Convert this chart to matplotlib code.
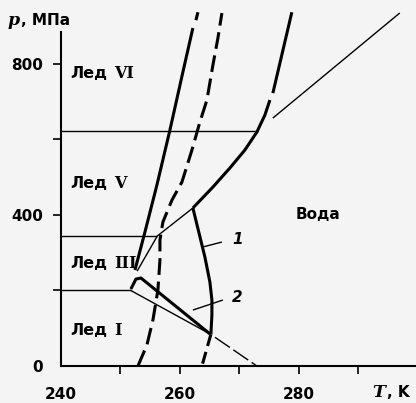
import matplotlib
matplotlib.use("Agg")
import matplotlib.pyplot as plt

# phase diagram of ice, T in K, p in MPa
vi_v_T = [240, 273.1]          # Ice V / Ice VI boundary
vi_v_p = [622, 622]
v_iii_T = [240, 256.2]         # Ice III / Ice V boundary
v_iii_p = [345, 345]
iii_i_T = [240, 251.7]         # Ice I / Ice III boundary
iii_i_p = [201, 201]

melt_i_T = [251.6, 265.04]     # Ice I melting (thin)
melt_i_p = [201, 85]
melt_i_ext_T = [265.9, 272.94]
melt_i_ext_p = [76, 0]

melt_iii_T = [252.8, 256.2, 262.18]
melt_iii_p = [251, 344, 418]

melt_v_T = [262.18, 265.55, 268.40, 270.92, 272.94, 274.29, 275.13]
melt_v_p = [418, 473.5, 523.8, 571.4, 619, 664, 703.7]
upper_T = [275.63, 278.82]
upper_p = [722, 936]

melt_vi_T = [275.63, 296.97]
melt_vi_p = [656, 934]

a_T = [252.44, 254.12, 256.13, 258.32, 260.50, 262.18]
a_p = [254, 354.5, 478.8, 624.3, 777.8, 894.2]
a_top_T = [262.69, 263.03]
a_top_p = [915, 936]

b_T = [252.94, 254.45, 255.46, 256.30, 256.64, 256.64, 257.14, 258.66,
       260.34, 262.02, 263.36, 264.54, 265.55, 266.39, 267.06]
b_p = [0, 55.6, 121.7, 201, 280.4, 333.3, 381, 439,
       486.8, 571.4, 645.5, 703.7, 796.3, 867.7, 933.9]

c1_T = [262.18, 264.20, 265.04, 265.38, 265.38, 265.21]
c1_p = [418, 288.4, 222.2, 174.6, 135, 84]
c1_ext_T = [265.21, 263.70]
c1_ext_p = [84, 0]

c2_T = [251.76, 252.6, 253.45, 265.04]
c2_p = [203.7, 230, 232.8, 85]

lead1_T = [263.87, 267.06]
lead1_p = [315, 328]
lead2_T = [262.18, 267.23]
lead2_p = [148, 174.6]

bg = "#f4f4f4"
sans = "DejaVu Sans"
serif = "DejaVu Serif"

fig = plt.figure(figsize=(4.16, 4.03), dpi=100, facecolor=bg)
ax = fig.add_axes([0.1466, 0.0918, 0.8534, 0.8816], facecolor=bg)
ax.set_xlim(240, 299.7)
ax.set_ylim(0, 940)

thin, thick = 1.0, 2.2
k = "black"
for T, p in [(vi_v_T, vi_v_p), (v_iii_T, v_iii_p), (iii_i_T, iii_i_p),
             (melt_i_T, melt_i_p), (melt_iii_T, melt_iii_p), (melt_vi_T, melt_vi_p),
             (lead1_T, lead1_p), (lead2_T, lead2_p)]:
    ax.plot(T, p, color=k, lw=thin, solid_capstyle="butt")
ax.plot(melt_i_ext_T, melt_i_ext_p, color=k, lw=thin, dashes=[13, 3])

for T, p in [(melt_v_T, melt_v_p), (upper_T, upper_p), (a_T, a_p), (a_top_T, a_top_p),
             (c1_T, c1_p), (c2_T, c2_p)]:
    ax.plot(T, p, color=k, lw=thick, solid_capstyle="butt", clip_on=False)
ax.plot(b_T, b_p, color=k, lw=thick, dashes=[5.5, 2.2], clip_on=False)
ax.plot(c1_ext_T, c1_ext_p, color=k, lw=thick, dashes=[4, 2])

for s in ["top", "right"]:
    ax.spines[s].set_visible(False)
ax.spines["left"].set_bounds(0, 884)
ax.spines["left"].set_linewidth(1.5)
ax.spines["bottom"].set_linewidth(1.5)

ax.set_xticks([240, 250, 260, 270, 280, 290])
ax.set_xticklabels(["240", "", "260", "", "280", ""])
ax.set_yticks([0, 200, 400, 600, 800])
ax.set_yticklabels(["0", "", "400", "", "800"])
ax.tick_params(axis="x", length=6, width=1.2, pad=9, labelsize=11)
ax.tick_params(axis="y", length=6, width=1.2, pad=7, labelsize=11)
ax.xaxis.get_major_ticks()[0].tick1line.set_visible(False)
ax.yaxis.get_major_ticks()[0].tick1line.set_visible(False)
for lab in ax.get_xticklabels() + ax.get_yticklabels():
    lab.set_fontfamily(sans)
    lab.set_fontweight("bold")

# region labels
lab_kw = dict(family=sans, fontweight="bold", fontsize=11.5, va="center", ha="left")
num_kw = dict(family=serif, fontweight="bold", fontsize=11.5, va="center", ha="left")
for p, num in [(775, "VI"), (484, "V"), (272, "III"), (95, "I")]:
    ax.text(241.5, p, "Лед", **lab_kw)
    ax.text(248.9, p, num, **num_kw)
ax.text(283.2, 400, "Вода", family=sans, fontweight="bold", fontsize=11,
        va="center", ha="center")
ax.text(269.7, 334, "1", family=sans, style="italic", fontweight="bold",
        fontsize=11, va="center", ha="center")
ax.text(269.7, 182, "2", family=sans, style="italic", fontweight="bold",
        fontsize=11, va="center", ha="center")

# axis titles
ax.text(231.1, 915, "p", family=serif, style="italic", fontweight="bold",
        fontsize=12.5, va="center", ha="left")
ax.text(233.3, 915, ", МПа", family=sans, fontweight="bold", fontsize=11,
        va="center", ha="left")
ax.text(292.4, -71, "T", family=serif, style="italic", fontweight="bold",
        fontsize=12.5, va="center", ha="left")
ax.text(294.8, -71, ", K", family=sans, fontweight="bold", fontsize=11,
        va="center", ha="left")

fig.savefig("out.png", dpi=100, facecolor=bg)
